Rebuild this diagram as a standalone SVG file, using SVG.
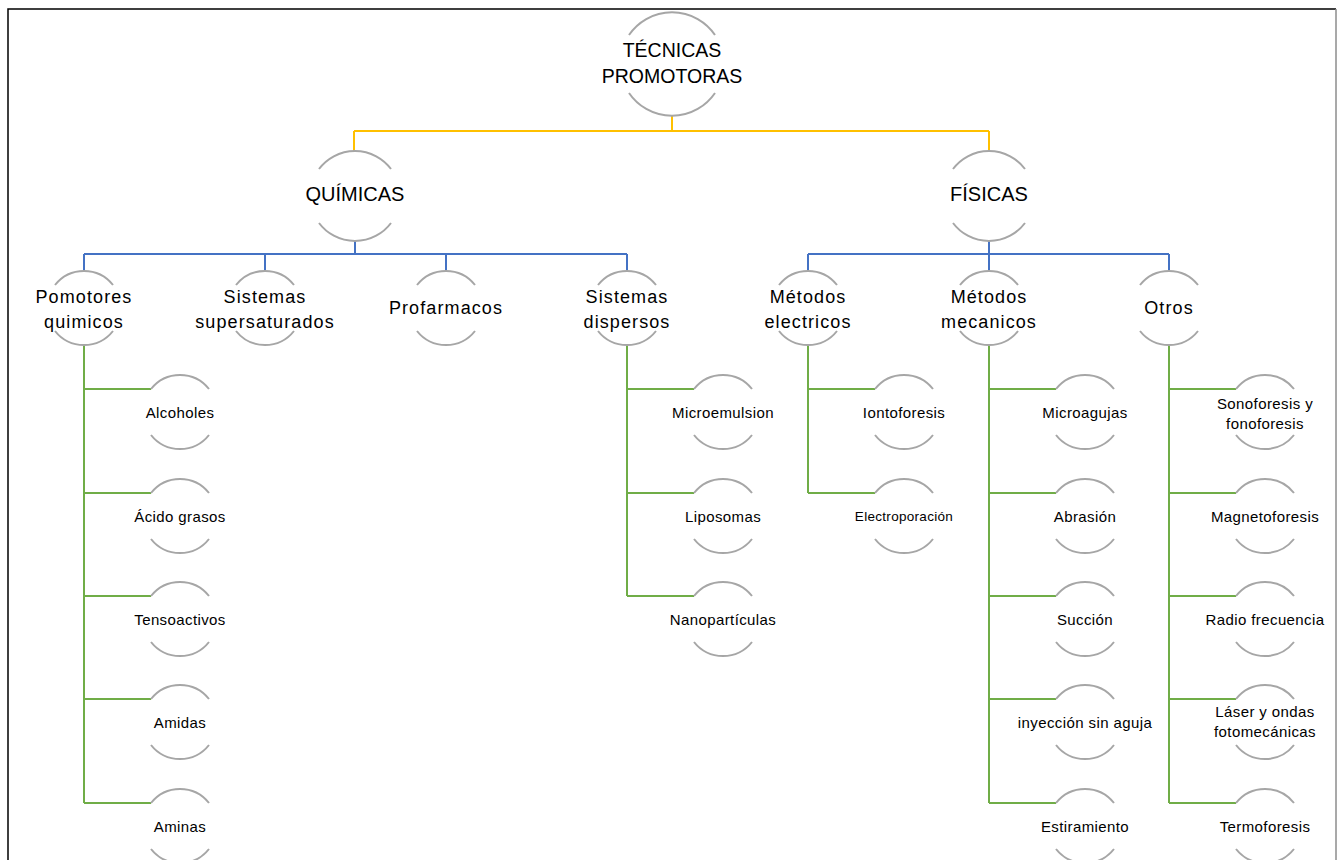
<svg xmlns="http://www.w3.org/2000/svg" width="1338" height="860" viewBox="0 0 1338 860">
<style>
.arc{fill:none;stroke:#A6A6A6;stroke-width:2}
.y{fill:none;stroke:#FFC000;stroke-width:2}
.b{fill:none;stroke:#4472C4;stroke-width:2}
.g{fill:none;stroke:#70AD47;stroke-width:2}
text{font-family:"Liberation Sans",Arial,sans-serif;fill:#000;text-anchor:middle}
.t1{font-size:19.5px}
.t2{font-size:20px}
.t3{font-size:18px;letter-spacing:1.1px}
.t4{font-size:15px;letter-spacing:0.4px}
.t5{font-size:13.5px;letter-spacing:0.3px}
</style>
<defs>
<g id="big"><path class="arc" d="M-43 -29 A52 52 0 0 1 43 -29"/><path class="arc" d="M-43 29 A52 52 0 0 0 43 29"/></g>
<g id="mid"><path class="arc" d="M-36 -27 A45 45 0 0 1 36 -27"/><path class="arc" d="M-36 27 A45 45 0 0 0 36 27"/></g>
<g id="sm"><path class="arc" d="M-29 -23 A37 37 0 0 1 29 -23"/><path class="arc" d="M-29 23 A37 37 0 0 0 29 23"/></g>
</defs>
<rect x="0" y="0" width="1338" height="860" fill="#fff"/>
<path d="M8 870 V9 H1336" fill="none" stroke="#000" stroke-width="1.5"/>
<path d="M1336 9 V870" fill="none" stroke="#8c8c8c" stroke-width="1.5"/>
<g id="connectors">
<path class="y" d="M672 116 V131 M354 131 H989 M354 131 V151 M989 131 V151"/>
<path class="b" d="M355 241 V254 M84 254 H627 M84 254 V271 M265 254 V271 M446 254 V271 M627 254 V271"/>
<path class="b" d="M989 241 V254 M808 254 H1169 M808 254 V271 M989 254 V271 M1169 254 V271"/>
<path class="g" d="M84 345 V803 M84 389 H151 M84 493 H151 M84 596 H151 M84 699 H151 M84 803 H151"/>
<path class="g" d="M627 345 V596 M627 389 H694 M627 493 H694 M627 596 H694"/>
<path class="g" d="M808 345 V493 M808 389 H875 M808 493 H875"/>
<path class="g" d="M989 345 V803 M989 389 H1056 M989 493 H1056 M989 596 H1056 M989 699 H1056 M989 803 H1056"/>
<path class="g" d="M1169 345 V803 M1169 389 H1236 M1169 493 H1236 M1169 596 H1236 M1169 699 H1236 M1169 803 H1236"/>
</g>
<g id="n-top"><use href="#big" x="672" y="64"/><text class="t1" x="672" y="57">TÉCNICAS</text><text class="t1" x="672" y="83">PROMOTORAS</text></g>
<g id="n-quimicas"><use href="#mid" x="355" y="196"/><text class="t2" x="355" y="201">QUÍMICAS</text></g>
<g id="n-fisicas"><use href="#mid" x="989" y="196"/><text class="t2" x="989" y="201">FÍSICAS</text></g>
<g id="n-pomotores"><use href="#sm" x="84" y="308"/><text class="t3" x="84" y="303">Pomotores</text><text class="t3" x="84" y="328">quimicos</text></g>
<g id="n-supersat"><use href="#sm" x="265" y="308"/><text class="t3" x="265" y="303">Sistemas</text><text class="t3" x="265" y="328">supersaturados</text></g>
<g id="n-profarmacos"><use href="#sm" x="446" y="308"/><text class="t3" x="446" y="314">Profarmacos</text></g>
<g id="n-dispersos"><use href="#sm" x="627" y="308"/><text class="t3" x="627" y="303">Sistemas</text><text class="t3" x="627" y="328">dispersos</text></g>
<g id="n-electricos"><use href="#sm" x="808" y="308"/><text class="t3" x="808" y="303">Métodos</text><text class="t3" x="808" y="328">electricos</text></g>
<g id="n-mecanicos"><use href="#sm" x="989" y="308"/><text class="t3" x="989" y="303">Métodos</text><text class="t3" x="989" y="328">mecanicos</text></g>
<g id="n-otros"><use href="#sm" x="1169" y="308"/><text class="t3" x="1169" y="314">Otros</text></g>
<g id="n-alcoholes"><use href="#sm" x="180" y="412"/><text class="t4" x="180" y="418">Alcoholes</text></g>
<g id="n-acido"><use href="#sm" x="180" y="516"/><text class="t4" x="180" y="522">Ácido grasos</text></g>
<g id="n-tenso"><use href="#sm" x="180" y="619"/><text class="t4" x="180" y="625">Tensoactivos</text></g>
<g id="n-amidas"><use href="#sm" x="180" y="722"/><text class="t4" x="180" y="728">Amidas</text></g>
<g id="n-aminas"><use href="#sm" x="180" y="826"/><text class="t4" x="180" y="832">Aminas</text></g>
<g id="n-microemulsion"><use href="#sm" x="723" y="412"/><text class="t4" x="723" y="418">Microemulsion</text></g>
<g id="n-liposomas"><use href="#sm" x="723" y="516"/><text class="t4" x="723" y="522">Liposomas</text></g>
<g id="n-nano"><use href="#sm" x="723" y="619"/><text class="t4" x="723" y="625">Nanopartículas</text></g>
<g id="n-ionto"><use href="#sm" x="904" y="412"/><text class="t4" x="904" y="418">Iontoforesis</text></g>
<g id="n-electro"><use href="#sm" x="904" y="516"/><text class="t5" x="904" y="521">Electroporación</text></g>
<g id="n-microagujas"><use href="#sm" x="1085" y="412"/><text class="t4" x="1085" y="418">Microagujas</text></g>
<g id="n-abrasion"><use href="#sm" x="1085" y="516"/><text class="t4" x="1085" y="522">Abrasión</text></g>
<g id="n-succion"><use href="#sm" x="1085" y="619"/><text class="t4" x="1085" y="625">Succión</text></g>
<g id="n-inyeccion"><use href="#sm" x="1085" y="722"/><text class="t4" x="1085" y="728">inyección sin aguja</text></g>
<g id="n-estiramiento"><use href="#sm" x="1085" y="826"/><text class="t4" x="1085" y="832">Estiramiento</text></g>
<g id="n-sono"><use href="#sm" x="1265" y="412"/><text class="t4" x="1265" y="409">Sonoforesis y</text><text class="t4" x="1265" y="429">fonoforesis</text></g>
<g id="n-magneto"><use href="#sm" x="1265" y="516"/><text class="t4" x="1265" y="522">Magnetoforesis</text></g>
<g id="n-radio"><use href="#sm" x="1265" y="619"/><text class="t4" x="1265" y="625">Radio frecuencia</text></g>
<g id="n-laser"><use href="#sm" x="1265" y="722"/><text class="t4" x="1265" y="717">Láser y ondas</text><text class="t4" x="1265" y="737">fotomecánicas</text></g>
<g id="n-termo"><use href="#sm" x="1265" y="826"/><text class="t4" x="1265" y="832">Termoforesis</text></g>
</svg>
